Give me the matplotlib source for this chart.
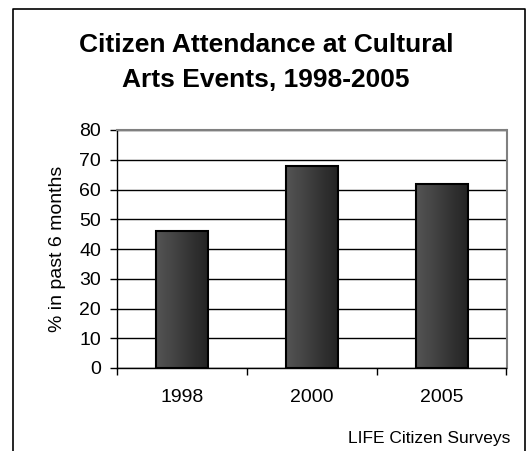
import numpy as np
import matplotlib
matplotlib.use("Agg")
import matplotlib.pyplot as plt
from matplotlib.lines import Line2D
from matplotlib.colors import LinearSegmentedColormap

categories = ["1998", "2000", "2005"]
values = [46, 68, 62]
yticks = [0, 10, 20, 30, 40, 50, 60, 70, 80]

plt.rcParams['font.family'] = ['Liberation Sans', 'DejaVu Sans']

W, H = 532, 451
fig = plt.figure(figsize=(W / 100, H / 100), dpi=100)

fx = lambda px: px / W
fy = lambda py: 1 - py / H
# outer frame (left, top, right)
fig.add_artist(Line2D([fx(13), fx(13), fx(524.5), fx(524.5)],
                      [fy(455), fy(9), fy(9), fy(455)],
                      transform=fig.transFigure, color='black', lw=1.2))

left, right, top, bottom = 117, 506.5, 130, 368
ax = fig.add_axes([fx(left), fy(bottom), (right - left) / W, (bottom - top) / H])

x = np.arange(len(categories))
bars = ax.bar(x, values, width=0.4, color='#3a3a3a', edgecolor='black', linewidth=1.5, zorder=3)

grad = np.linspace(0, 1, 256).reshape(1, -1)
cmap = LinearSegmentedColormap.from_list('g', ['#555555', '#232323'])
for b in bars:
    x0, w, h = b.get_x(), b.get_width(), b.get_height()
    im = ax.imshow(grad, extent=[x0, x0 + w, 0, h], aspect='auto', cmap=cmap, zorder=3.5)
    im.set_clip_path(b)
    b.set_facecolor('none')
    b.set_zorder(4)

ax.set_xlim(-0.5, len(categories) - 0.5)
ax.set_ylim(0, 80)
ax.set_yticks(yticks)
ax.set_yticklabels([str(t) for t in yticks], fontsize=14)
ax.yaxis.grid(True, color='black', lw=1.0, zorder=0)
ax.set_axisbelow(True)

ax.set_xticks(x)
ax.set_xticklabels(categories, fontsize=14)
ax.tick_params(axis='x', length=0, pad=15)
ax.set_xticks(np.arange(len(categories) + 1) - 0.5, minor=True)
ax.tick_params(axis='x', which='minor', length=5, width=1, color='black', direction='out')
ax.tick_params(axis='y', length=5, width=1, direction='out', pad=6.5)

for s in ['top', 'right']:
    ax.spines[s].set_color('#808080')
    ax.spines[s].set_linewidth(1.5)
for s in ['left', 'bottom']:
    ax.spines[s].set_color('black')
    ax.spines[s].set_linewidth(1.0)

ax.set_ylabel('% in past 6 months', fontsize=14)
ax.yaxis.set_label_coords((66 - left) / (right - left), 0.5)

fig.text(fx(266), fy(45), 'Citizen Attendance at Cultural', ha='center', va='center',
         fontsize=19, fontweight='bold')
fig.text(fx(266), fy(80), 'Arts Events, 1998-2005', ha='center', va='center',
         fontsize=19, fontweight='bold')
fig.text(fx(510), fy(439), 'LIFE Citizen Surveys', ha='right', va='center', fontsize=12.5)

fig.savefig('out.png', dpi=100)
